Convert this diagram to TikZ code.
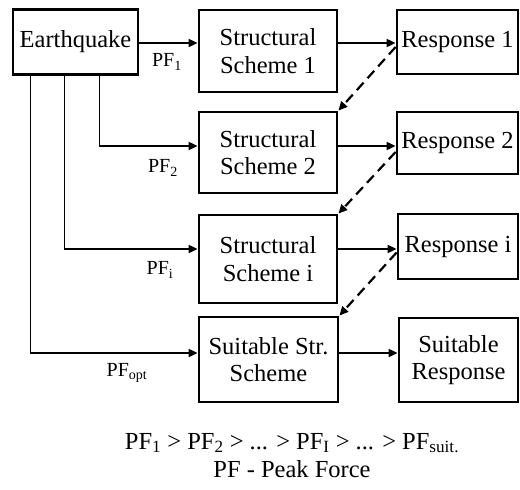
\documentclass[tikz,border=0pt]{standalone}
\usepackage{fontspec}
\setmainfont{Liberation Serif}
\usetikzlibrary{arrows.meta}
\begin{document}
\begin{tikzpicture}[x=1pt,y=-1pt,
  box/.style={draw,line width=2.8pt,inner sep=0pt,align=center,font=\fontsize{24.5}{27.5}\selectfont},
  arr/.style={line width=1.9pt,-{Triangle[length=9pt,width=8pt]}},
  thin/.style={line width=0.9pt},
  darr/.style={line width=2.2pt,dash pattern=on 10pt off 6pt,-{Triangle[length=9pt,width=8pt]}},
  lbl/.style={font=\fontsize{20}{24}\selectfont,inner sep=0pt}]
\useasboundingbox (0,0) rectangle (520,490);
\node[box,minimum width=125pt,minimum height=65pt] (EQ) at (75.5,42) {Earthquake};
\node[box,minimum width=138pt,minimum height=82pt] (SS1) at (268,51) {Structural\\Scheme 1};
\node[box,minimum width=121pt,minimum height=64pt] (R1) at (457.5,42) {Response 1};
\node[box,minimum width=138pt,minimum height=81pt] (SS2) at (268,152.5) {Structural\\Scheme 2};
\node[box,minimum width=121pt,minimum height=62pt] (R2) at (457.5,143) {Response 2};
\node[box,minimum width=138pt,minimum height=88pt] (SSi) at (268,259) {Structural\\Scheme i};
\node[box,minimum width=120pt,minimum height=65pt] (Ri) at (458,246.5) {Response i};
\node[box,minimum width=139pt,minimum height=85pt] (SSs) at (268.5,359.5) {Suitable Str.\\Scheme};
\node[box,minimum width=119pt,minimum height=84pt] (Rs) at (458.5,360) {Suitable\\Response};
\coordinate (r1) at (0,43);
\coordinate (r2) at (0,146);
\coordinate (r3) at (0,249);
\coordinate (r4) at (0,353);
\coordinate (b1) at (99,0);
\coordinate (b2) at (64,0);
\coordinate (b3) at (30,0);
% Earthquake -> SS1
\draw[arr] (EQ.east |- r1) -- (SS1.west |- r1);
% branches
\draw[thin] (EQ.south -| b1) -- (b1 |- r2);
\draw[arr] (b1 |- r2) -- (SS2.west |- r2);
\draw[thin] (EQ.south -| b2) -- (b2 |- r3);
\draw[arr] (b2 |- r3) -- (SSi.west |- r3);
\draw[thin] (EQ.south -| b3) -- (b3 |- r4);
\draw[arr] (b3 |- r4) -- (SSs.west |- r4);
% scheme -> response
\draw[arr] (SS1.east |- r1) -- (R1.west |- r1);
\draw[arr] (SS2.east |- r2) -- (R2.west |- r2);
\draw[arr] (SSi.east |- r3) -- (Ri.west |- r3);
\draw[arr] (SSs.east |- r4) -- (Rs.west |- r4);
% dashed feedback
\draw[darr] ([yshift=-5pt]R1.west) -- (SS2.north east);
\draw[darr] ([yshift=-9pt]R2.west) -- (SSi.north east);
\draw[darr] ([yshift=-6pt]Ri.west) -- (SSs.north east);
% labels
\node[lbl] (l1) at (167,62) {PF\textsubscript{1}};
\node[lbl] (l2) at (163,168) {PF\textsubscript{2}};
\node[lbl] (l3) at (160,270) {PF\textsubscript{i}};
\node[lbl] (l4) at (127,373) {PF\textsubscript{opt}};
\node[lbl,font=\fontsize{24.5}{27.5}\selectfont] (f1) at (292,443) {PF\textsubscript{1} {>} PF\textsubscript{2} {>} ... {>} PF\textsubscript{I} {>} ... {>} PF\textsubscript{suit.}};
\node[lbl,font=\fontsize{24.5}{27.5}\selectfont] (f2) at (292,469) {PF - Peak Force};
\end{tikzpicture}
\end{document}
